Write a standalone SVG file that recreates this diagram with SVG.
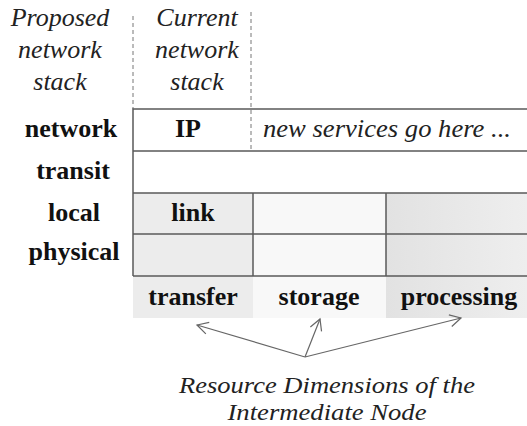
<svg xmlns="http://www.w3.org/2000/svg" width="527" height="426" viewBox="0 0 527 426">
<style>
text{font-family:"Liberation Serif","Times New Roman","DejaVu Serif",serif}
.it{font-style:italic;font-size:26px;fill:#222}
.cap{font-style:italic;font-size:24px;fill:#222}
.bd{font-weight:bold;font-size:26px;fill:#111}
.grid{stroke:#5a5a5a;stroke-width:1.5;fill:none}
.dash{stroke:#777;stroke-width:1;stroke-dasharray:4,3;fill:none}
.conn{stroke:#666;stroke-width:1.2;fill:none;marker-end:url(#ah)}
</style>
<defs>
<marker id="ah" markerWidth="14" markerHeight="14" refX="12" refY="7" orient="auto" markerUnits="userSpaceOnUse">
<path d="M1,1 L12,7 L1,13" fill="none" stroke="#666" stroke-width="1.2"/>
</marker>
<linearGradient id="proc" x1="0" x2="1" y1="0" y2="0">
<stop offset="0" stop-color="#e2e2e2"/>
<stop offset="1" stop-color="#eeeeee"/>
</linearGradient>
</defs>
<rect width="527" height="426" fill="#ffffff"/>
<g id="backgrounds">
<rect x="133" y="193" width="120" height="125" fill="#ececec"/>
<rect x="253" y="193" width="133" height="125" fill="#f8f8f8"/>
<rect x="386" y="193" width="141" height="125" fill="url(#proc)"/>
</g>
<g id="grid">
<line class="dash" x1="133" y1="16" x2="133" y2="109"/>
<line class="dash" x1="251" y1="12" x2="251" y2="151"/>
<path class="grid" d="M527,109 H133 V276 M133,151 H527 M133,193 H527 M133,234 H527 M133,276 H527 M253,193 V276 M386,193 V276"/>
</g>
<g id="header-proposed">
<text class="it" x="60" y="26" text-anchor="middle">Proposed</text>
<text class="it" x="60" y="58" text-anchor="middle">network</text>
<text class="it" x="60" y="90" text-anchor="middle">stack</text>
</g>
<g id="header-current">
<text class="it" x="197" y="26" text-anchor="middle">Current</text>
<text class="it" x="197" y="58" text-anchor="middle">network</text>
<text class="it" x="197" y="90" text-anchor="middle">stack</text>
</g>
<g id="row-labels">
<text class="bd" x="71" y="137" text-anchor="middle">network</text>
<text class="bd" x="73" y="179" text-anchor="middle">transit</text>
<text class="bd" x="74" y="221" text-anchor="middle">local</text>
<text class="bd" x="74" y="260" text-anchor="middle">physical</text>
</g>
<g id="cell-ip"><text class="bd" x="188" y="137" text-anchor="middle">IP</text></g>
<g id="cell-new"><text class="it" x="263" y="137" textLength="248" lengthAdjust="spacingAndGlyphs">new services go here ...</text></g>
<g id="cell-link"><text class="bd" x="193" y="221" text-anchor="middle">link</text></g>
<g id="col-transfer"><text class="bd" x="193" y="305" text-anchor="middle">transfer</text></g>
<g id="col-storage"><text class="bd" x="319" y="305" text-anchor="middle">storage</text></g>
<g id="col-processing"><text class="bd" x="459" y="305" text-anchor="middle">processing</text></g>
<g id="connectors">
<line class="conn" x1="305" y1="357" x2="197" y2="325"/>
<line class="conn" x1="305" y1="357" x2="320" y2="319"/>
<line class="conn" x1="305" y1="357" x2="461" y2="318"/>
</g>
<g id="caption">
<text class="cap" x="327" y="393" text-anchor="middle" textLength="296" lengthAdjust="spacingAndGlyphs">Resource Dimensions of the</text>
<text class="cap" x="327" y="420" text-anchor="middle" textLength="199" lengthAdjust="spacingAndGlyphs">Intermediate Node</text>
</g>
</svg>
